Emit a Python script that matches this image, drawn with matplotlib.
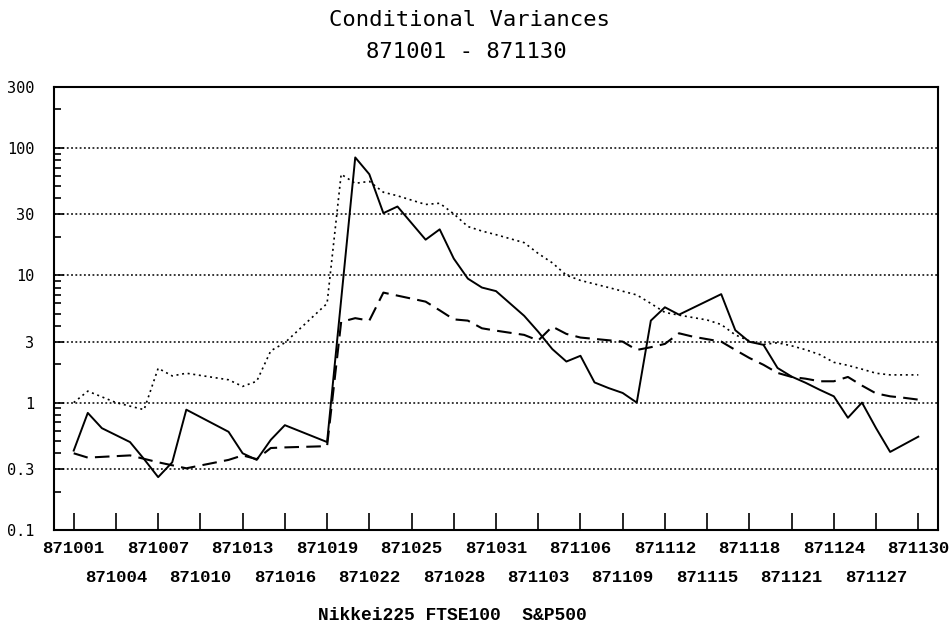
import matplotlib
matplotlib.use("Agg")
import matplotlib.pyplot as plt
from matplotlib.ticker import FixedLocator, NullFormatter

# ---- data (day offset from 871001, conditional variance) ----
nikkei_days = [0, 1, 2, 4, 5, 6, 7, 8, 11, 12, 13, 14, 15, 18, 20, 21, 22, 23, 25, 26,
               27, 28, 29, 30, 32, 33, 34, 35, 36, 37, 38, 39, 40, 41, 42, 43, 46, 47, 48, 49,
               50, 51, 52, 53, 54, 55, 56, 57, 58, 60]
nikkei_vals = [0.42, 0.83, 0.63, 0.49, 0.36, 0.26, 0.34, 0.88, 0.59, 0.40, 0.355, 0.51, 0.665, 0.49, 84, 62, 30.7, 34.6, 19, 22.9,
               13.5, 9.4, 8.0, 7.5, 4.8, 3.6, 2.63, 2.1, 2.33, 1.44, 1.3, 1.19, 1.0, 4.4, 5.6, 4.9, 7.1, 3.7, 3.0, 2.84,
               1.87, 1.6, 1.43, 1.26, 1.12, 0.76, 1.0, 0.63, 0.41, 0.54]

ftse_days = [0, 1, 4, 6, 8, 11, 12, 13, 14, 15, 18, 19, 20, 21, 22, 25, 26, 27, 28, 29,
             30, 32, 33, 34, 35, 36, 39, 40, 41, 42, 43, 44, 46, 47, 48, 49, 50, 51, 52, 53,
             54, 55, 56, 57, 58, 59, 60]
ftse_vals = [0.40, 0.37, 0.385, 0.34, 0.305, 0.355, 0.385, 0.36, 0.44, 0.445, 0.455, 4.3, 4.6, 4.4, 7.3, 6.2, 5.3, 4.5, 4.4, 3.83,
             3.67, 3.4, 3.07, 3.95, 3.46, 3.24, 3.01, 2.59, 2.72, 2.89, 3.5, 3.29, 3.01, 2.59, 2.24, 1.98, 1.71, 1.59, 1.54, 1.47,
             1.47, 1.59, 1.36, 1.18, 1.12, 1.09, 1.055]

sp_days = [0, 1, 3, 5, 6, 7, 8, 11, 12, 13, 14, 15, 18, 19, 20, 21, 22, 23, 25, 26,
           27, 28, 29, 30, 32, 33, 34, 35, 36, 38, 40, 41, 42, 43, 45, 46, 47, 48, 49, 50,
           51, 52, 53, 54, 55, 56, 57, 58, 60]
sp_vals = [1.0, 1.23, 1.0, 0.88, 1.86, 1.62, 1.70, 1.51, 1.34, 1.47, 2.55, 2.95, 6.0, 62, 52.6, 54.5, 44.8, 42, 35.9, 36.7,
           30.3, 24.1, 22.2, 20.8, 18, 14.8, 12.5, 10, 9.1, 8.0, 7.0, 6.0, 5.1, 4.86, 4.45, 4.1, 3.4, 3.05, 2.86, 2.95,
           2.79, 2.6, 2.38, 2.07, 1.96, 1.83, 1.7, 1.65, 1.65]

x_tick_days = list(range(0, 61, 3))
x_tick_labels = ["871001", "871004", "871007", "871010", "871013", "871016", "871019",
                 "871022", "871025", "871028", "871031", "871103", "871106", "871109",
                 "871112", "871115", "871118", "871121", "871124", "871127", "871130"]
y_major = [0.1, 0.3, 1, 3, 10, 30, 100, 300]
y_major_labels = ["0.1", "0.3", "1", "3", "10", "30", "100", "300"]
y_minor = [0.2, 0.4, 0.5, 0.6, 0.7, 0.8, 0.9, 2, 4, 5, 6, 7, 8, 9,
           20, 40, 50, 60, 70, 80, 90, 200]
grid_levels = [0.3, 1, 3, 10, 30, 100]

title_lines = ["Conditional Variances", "871001 - 871130"]
legend_text = "Nikkei225 FTSE100  S&P500"

# ---- figure ----
W, H = 949, 629
fig = plt.figure(figsize=(W / 100, H / 100), dpi=100)
ax = fig.add_axes([54 / W, 1 - 530 / H, (938 - 54) / W, (530 - 87) / H])

ax.set_yscale("log")
ax.set_ylim(0.1, 300)
ax.set_xlim(-1.4, 61.4)

for g in grid_levels:
    ax.axhline(g, color="black", lw=1.1, ls=(0, (1.2, 1.6)), zorder=1)

ax.plot(nikkei_days, nikkei_vals, color="black", lw=1.4, ls="-", zorder=3)
ax.plot(ftse_days, ftse_vals, color="black", lw=1.5, ls=(0, (7, 3.5)), zorder=3)
ax.plot(sp_days, sp_vals, color="black", lw=1.2, ls=(0, (1.2, 2.2)), zorder=3)

mono_sans = "DejaVu Sans Mono"
mono = "Liberation Mono"

ax.yaxis.set_major_locator(FixedLocator(y_major))
ax.yaxis.set_minor_locator(FixedLocator(y_minor))
ax.set_yticklabels(y_major_labels, fontfamily=mono_sans, fontsize=11)
ax.yaxis.set_minor_formatter(NullFormatter())
ax.tick_params(axis="y", which="major", direction="in", length=7, width=1.2, pad=14)
ax.tick_params(axis="y", which="minor", direction="in", length=5, width=1.2)

ax.set_xticks(x_tick_days)
ax.tick_params(axis="x", which="major", direction="in", length=12, width=1.2, pad=8)
ax.set_xticklabels(x_tick_labels, fontfamily=mono, fontsize=12.5, fontweight="bold")
ax.xaxis.set_minor_locator(FixedLocator([]))
for i, tick in enumerate(ax.xaxis.get_major_ticks()):
    if i % 2 == 1:
        tick.set_pad(29)

for s in ax.spines.values():
    s.set_linewidth(1.5)

fig.text(469 / W, 1 - 20 / H, title_lines[0], ha="center", va="center",
         fontfamily=mono_sans, fontsize=16)
fig.text(466 / W, 1 - 52 / H, title_lines[1], ha="center", va="center",
         fontfamily=mono_sans, fontsize=16)
fig.text(318 / W, 1 - 615 / H, legend_text, ha="left", va="center",
         fontfamily=mono, fontsize=13, fontweight="bold")

fig.savefig("out.png", dpi=100)
